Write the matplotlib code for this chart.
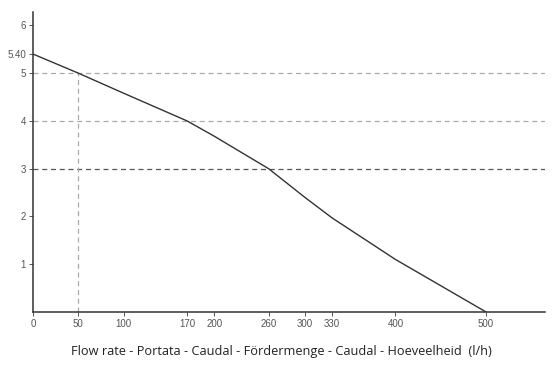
import matplotlib.pyplot as plt

flow = [0, 50, 100, 170, 200, 260, 300, 330, 400, 500]
head = [5.40, 5.0, 4.58, 4.0, 3.68, 3.0, 2.4, 1.97, 1.1, 0.0]

x_ticks = [0, 50, 100, 170, 200, 260, 300, 330, 400, 500]
y_ticks = [1, 2, 3, 4, 5, 5.40, 6]
y_labels = ["1", "2", "3", "4", "5", "5.40", "6"]
x_label = "Flow rate - Portata - Caudal - Fördermenge - Caudal - Hoeveelheid  (l/h)"

fig = plt.figure(figsize=(5.55, 3.66), dpi=100)
ax = fig.add_axes([0.0595, 0.1475, 0.9225, 0.8197])

ax.set_xlim(0, 565)
ax.set_ylim(0, 6.28)

# reference lines
for y, c in [(5, "#aaaaaa"), (4, "#aaaaaa"), (3, "#555555")]:
    ax.axhline(y, color=c, lw=0.9, ls=(0, (4, 3)), zorder=1)
ax.plot([50, 50], [0, 5], color="#aaaaaa", lw=0.9, ls=(0, (4, 3)), zorder=1)

ax.plot(flow, head, color="#333333", lw=1.0, zorder=3)

ax.spines["top"].set_visible(False)
ax.spines["right"].set_visible(False)
for s in ("left", "bottom"):
    ax.spines[s].set_color("#333333")
    ax.spines[s].set_linewidth(1.1)

ax.set_xticks(x_ticks)
ax.set_xticklabels([str(v) for v in x_ticks])
ax.set_yticks(y_ticks)
ax.set_yticklabels(y_labels)
ax.tick_params(axis="both", labelsize=7, colors="#555555", length=3, width=0.7,
               pad=2)
for lbl in ax.get_xticklabels() + ax.get_yticklabels():
    lbl.set_family("Liberation Sans")

ax.set_xlabel(x_label, fontsize=9.2, color="#222222", family="Open Sans",
              va="center")
ax.xaxis.set_label_coords(0.486, -0.133)

fig.savefig("out.png", dpi=100)
